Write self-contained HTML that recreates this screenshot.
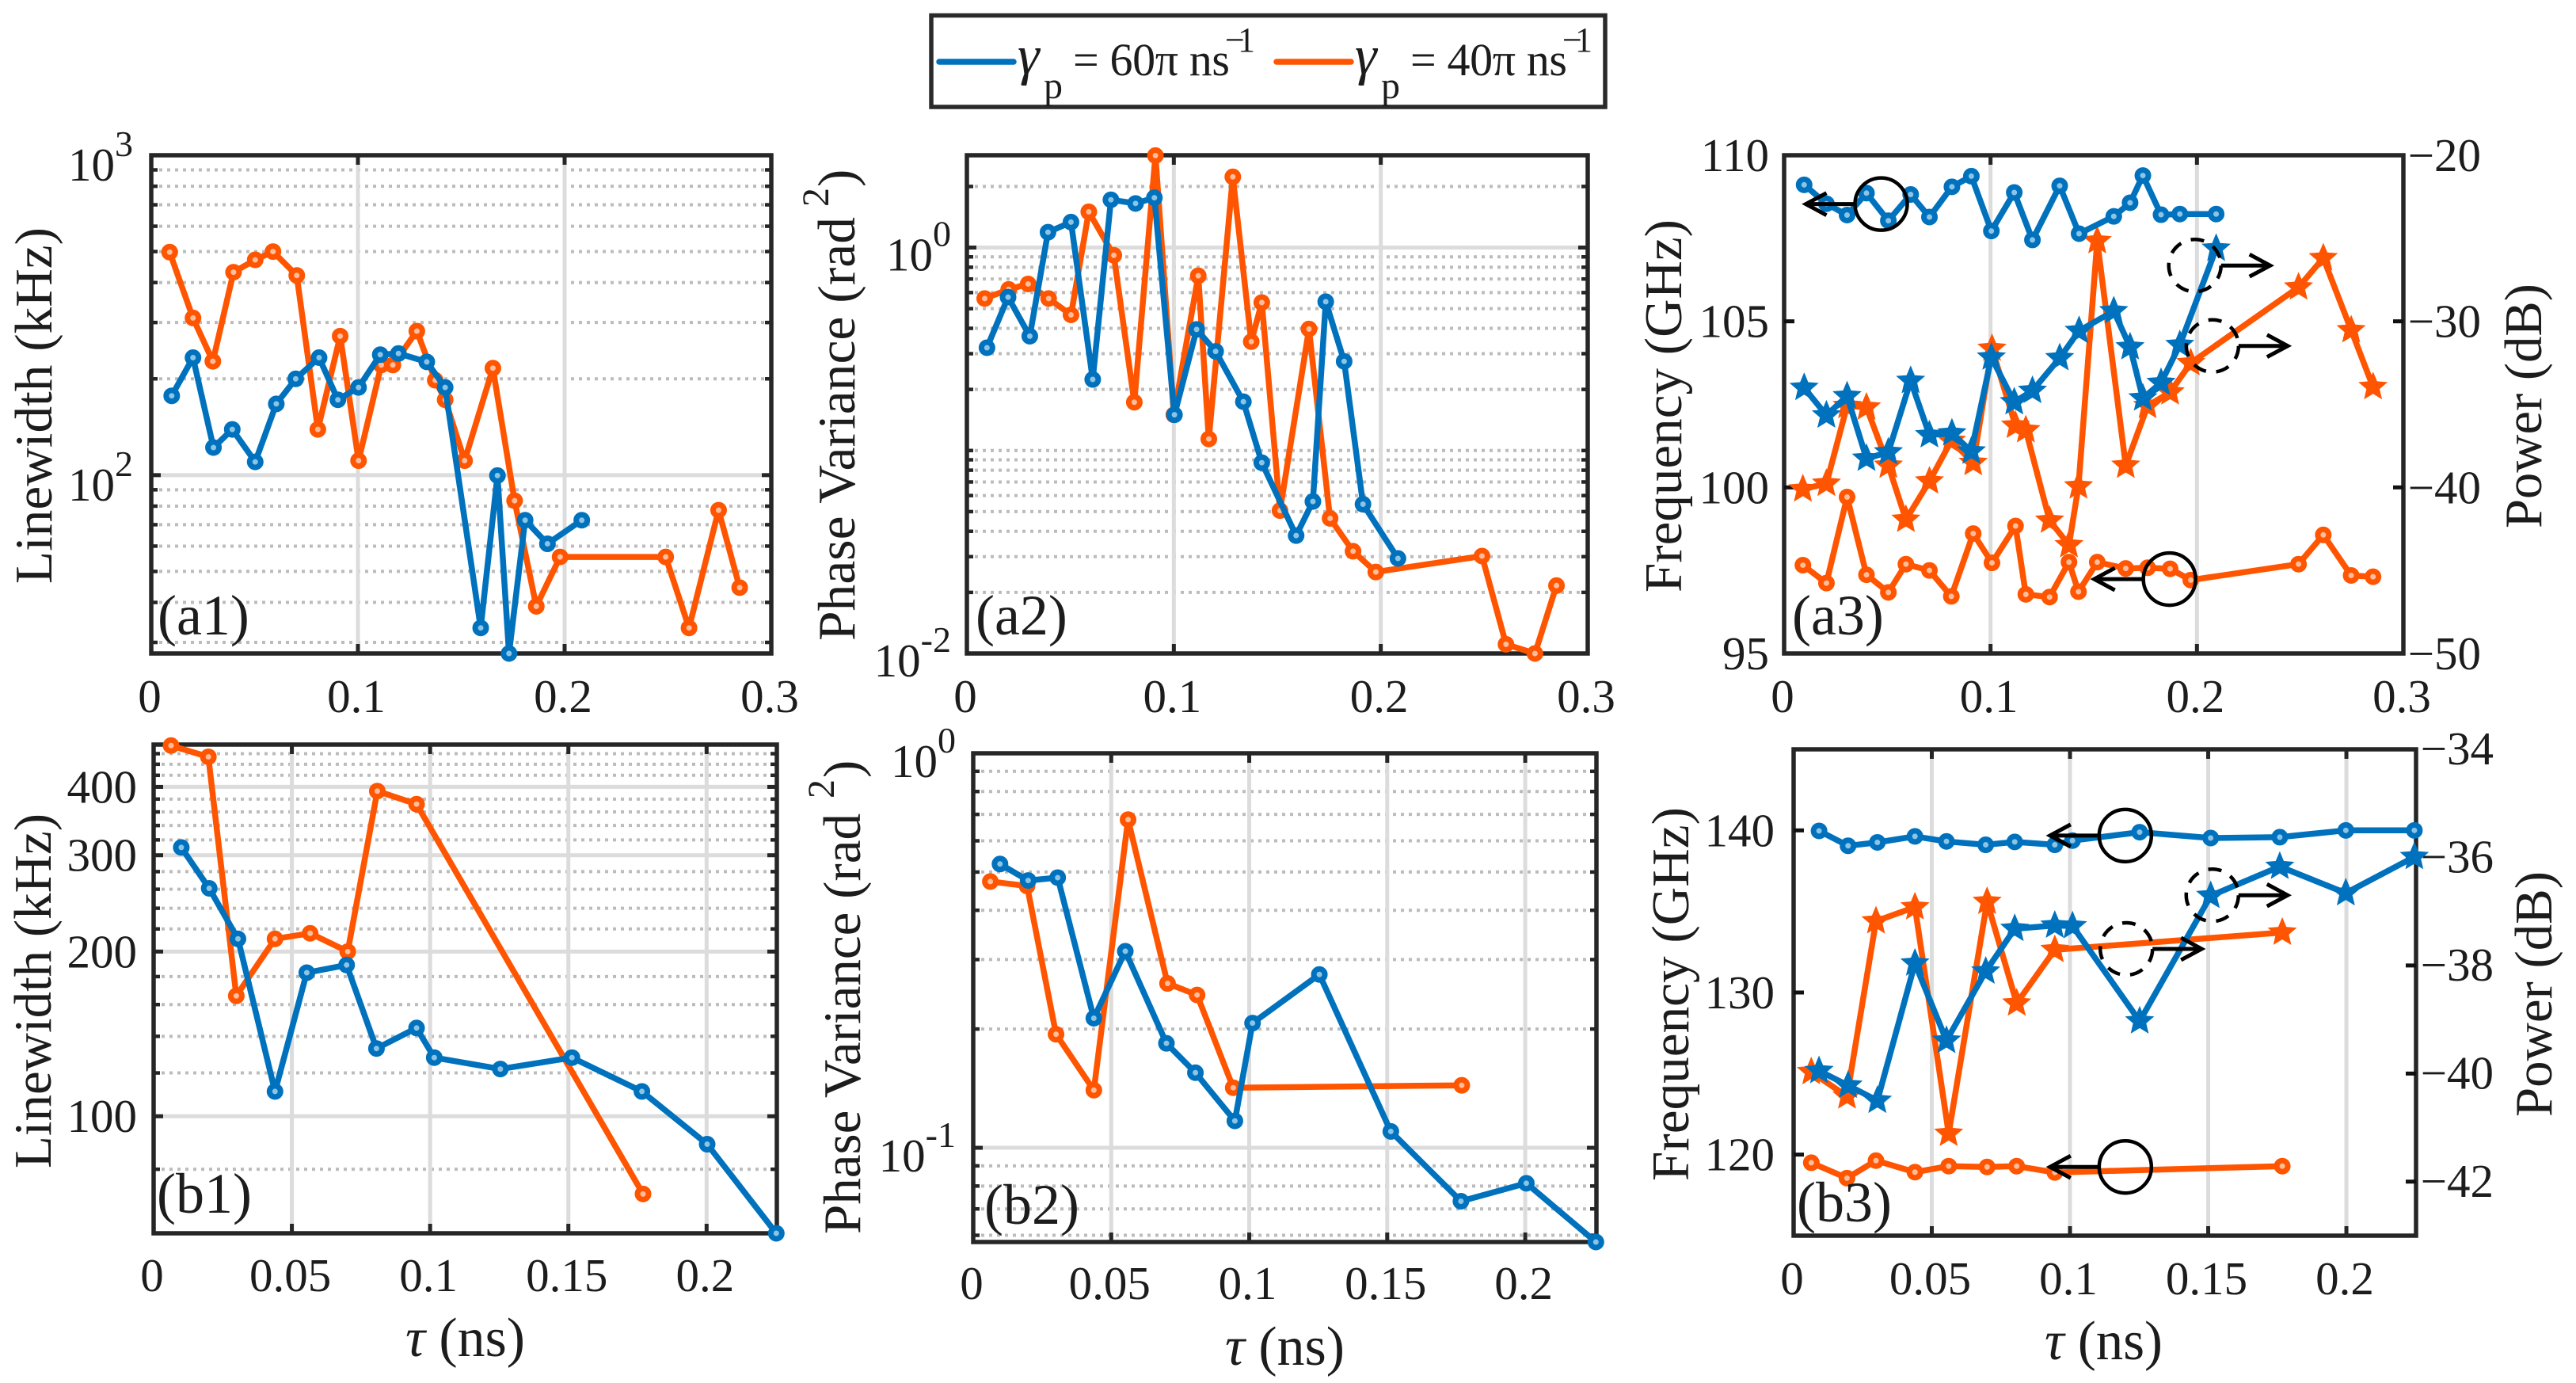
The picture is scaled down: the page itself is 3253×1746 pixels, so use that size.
<!DOCTYPE html>
<html lang="en">
<head>
<meta charset="utf-8">
<title>Linewidth, phase variance, frequency and power versus delay</title>
<style>
html,body{margin:0;padding:0;background:#fff;}
svg{display:block;font-family:"Liberation Serif",serif;fill:#1c1c1c;}
</style>
</head>
<body>
<svg id="figure" xmlns="http://www.w3.org/2000/svg" width="3253" height="1746" viewBox="0 0 3253 1746">
  <rect x="0" y="0" width="3253" height="1746" fill="#fff"/>

  <g>
    <rect x="1176" y="19.5" width="851" height="115.5" fill="#fff" stroke="#2a2a2a" stroke-width="5.5"/>
    <line x1="1186" y1="78" x2="1280" y2="78" stroke="#0072bd" stroke-width="7.5" stroke-linecap="round"/>
    <text x="1285" y="93" font-size="70" font-style="italic">γ</text>
    <text x="1318" y="124" font-size="48">p</text>
    <text x="1355" y="95" font-size="58" textLength="198" lengthAdjust="spacing">= 60π ns</text>
    <text x="1547" y="65" font-size="44" textLength="38" lengthAdjust="spacing">−1</text>
    <line x1="1612" y1="78" x2="1706" y2="78" stroke="#ff5500" stroke-width="7.5" stroke-linecap="round"/>
    <text x="1711" y="93" font-size="70" font-style="italic">γ</text>
    <text x="1744" y="124" font-size="48">p</text>
    <text x="1781" y="95" font-size="58" textLength="198" lengthAdjust="spacing">= 40π ns</text>
    <text x="1973" y="65" font-size="44" textLength="38" lengthAdjust="spacing">−1</text>
  </g>

  <g id="plot-a1"></g>
  <g id="plot-a2"></g>
  <g id="plot-a3"></g>
  <g id="plot-b1"></g>
  <g id="plot-b2"></g>
  <g id="plot-b3"></g>

  <g font-size="67">
    <text transform="translate(65,737) rotate(-90)" textLength="450" lengthAdjust="spacingAndGlyphs">Linewidth (kHz)</text>

    <text transform="translate(1079,809) rotate(-90)" textLength="535" lengthAdjust="spacingAndGlyphs">Phase Variance (rad</text>
    <text transform="translate(1046,261) rotate(-90)" font-size="48">2</text>
    <text transform="translate(1079,236) rotate(-90)">)</text>

    <text transform="translate(2123,748) rotate(-90)" textLength="471" lengthAdjust="spacingAndGlyphs">Frequency (GHz)</text>
    <text transform="translate(3209,667) rotate(-90)" textLength="309" lengthAdjust="spacingAndGlyphs">Power (dB)</text>

    <text transform="translate(64,1475) rotate(-90)" textLength="448" lengthAdjust="spacingAndGlyphs">Linewidth (kHz)</text>

    <text transform="translate(1086,1558) rotate(-90)" textLength="531" lengthAdjust="spacingAndGlyphs">Phase Variance (rad</text>
    <text transform="translate(1053,1008) rotate(-90)" font-size="48">2</text>
    <text transform="translate(1086,982) rotate(-90)">)</text>

    <text transform="translate(2132,1491) rotate(-90)" textLength="472" lengthAdjust="spacingAndGlyphs">Frequency (GHz)</text>
    <text transform="translate(3222,1410) rotate(-90)" textLength="310" lengthAdjust="spacingAndGlyphs">Power (dB)</text>

    <text x="512" y="1712" font-size="70" textLength="151" lengthAdjust="spacingAndGlyphs"><tspan font-style="italic">τ</tspan> (ns)</text>
    <text x="1547" y="1723" font-size="70" textLength="151" lengthAdjust="spacingAndGlyphs"><tspan font-style="italic">τ</tspan> (ns)</text>
    <text x="2582" y="1716" font-size="70" textLength="149" lengthAdjust="spacingAndGlyphs"><tspan font-style="italic">τ</tspan> (ns)</text>
  </g>

  <g font-size="72">
    <text x="199" y="801">(a1)</text>
    <text x="1232" y="801">(a2)</text>
    <text x="2263" y="801">(a3)</text>
    <text x="198" y="1531">(b1)</text>
    <text x="1243" y="1545">(b2)</text>
    <text x="2269" y="1542">(b3)</text>
  </g>
</svg>

<script>
// ---------- Panel (a1): linewidth ----------
const a1TauOrange = [.0089,.0202,.0298,.0398,.0503,.0589,.0704,.0806,.0914,.1003,.1113,.1169,.1285,.1374,.1422,.1516,.1653,.1758,.1863,.1978,.2489,.2602,.2745,.2847];
const a1WidthOrange = [498,310,227,431,471,500,421,139,272,111,221,221,282,198,172,111,216,83.2,38.9,55.5,55.5,33.3,77.7,44.5];
const a1TauBlue = [.0099,.0202,.0301,.0392,.0503,.0605,.0699,.0812,.0903,.1003,.1108,.1196,.1333,.1422,.1594,.1675,.1731,.1809,.1917,.2083];
const a1WidthBlue = [177,233,122,139,110,167,200,233,172,188,238,240,226,188,33.3,99.7,27.7,72.3,61,72.3];
const a1YMajorTicks = [100,1000];
const a1YMajorExponents = ['2','3'];
const a1YMinorTicks = [30,40,50,60,70,80,90,200,300,400,500,600,700,800,900];

// ---------- Panel (a2): phase variance ----------
const a2TauOrange = [.0086,.0202,.0296,.0395,.0503,.0589,.071,.0809,.0911,.1,.1118,.1169,.1285,.1374,.1425,.1513,.1653,.1755,.1866,.1976,.2489,.2605,.2745,.2849];
const a2VarOrange = [.561,.622,.662,.561,.466,1.5,.916,.173,2.84,.15,.726,.114,2.23,.344,.536,.0506,.397,.0463,.0319,.0252,.0302,.0111,.01,.0216];
const a2TauBlue = [.0097,.0199,.0304,.0392,.0503,.0608,.0696,.0815,.0906,.1003,.111,.1202,.1336,.1425,.1591,.1672,.1734,.1823,.1914,.2083];
const a2VarBlue = [.321,.57,.366,1.19,1.335,.224,1.72,1.65,1.76,.15,.395,.308,.174,.0871,.0381,.0561,.541,.275,.0544,.0294];
const a2YMajorTicks = [.01,1];
const a2YMajorExponents = ['-2','0'];
const a2YMinorTicks = [.02,.03,.04,.05,.06,.07,.08,.09,.1,.2,.3,.4,.5,.6,.7,.8,.9,2];

// ---------- Panel (a3): frequency and power ----------
const a3TauBlue = [.0097,.0205,.0305,.0399,.0505,.0613,.0704,.0813,.0907,.1004,.1115,.1203,.1335,.1429,.1597,.1676,.1738,.1826,.1917,.2093];
const a3FreqBlue = [109.11,108.54,108.2,108.86,108.03,108.82,108.14,109.05,109.37,107.72,108.88,107.45,109.08,107.64,108.16,108.57,109.39,108.21,108.23,108.23];
const a3PowerBlue = [-34,-35.66,-34.5,-38.26,-37.88,-33.58,-36.85,-36.74,-37.83,-32.17,-34.86,-34.18,-32.21,-30.57,-29.38,-31.55,-34.63,-33.7,-31.42,-25.62];
const a3TauOrange = [.0091,.0205,.0305,.0399,.0505,.059,.0704,.081,.0916,.1007,.1121,.1171,.1286,.138,.1426,.1517,.1655,.1761,.187,.197,.2492,.2612,.2747,.2853];
const a3FreqOrange = [97.66,97.12,99.71,97.37,96.84,97.69,97.5,96.72,98.61,97.73,98.84,96.78,96.7,97.75,96.86,97.75,97.56,97.58,97.55,97.21,97.69,98.57,97.35,97.31];
const a3PowerOrange = [-40.11,-39.77,-35.09,-35.18,-38.68,-41.94,-39.63,-37.19,-38.52,-31.64,-36.28,-36.55,-41.99,-43.47,-39.93,-25.16,-38.68,-35.09,-34.27,-32.51,-27.95,-26.19,-30.53,-33.95];
const a3LeftTicks = [95,100,105,110];
const a3LeftTickLabels = ['95','100','105','110'];
const a3RightTicks = [-50,-40,-30,-20];
const a3RightTickLabels = ['−50','−40','−30','−20'];

// ---------- Panel (b1): linewidth ----------
const b1TauOrange = [.0063,.0198,.0299,.0439,.0566,.0702,.0809,.0951,.177];
const b1WidthOrange = [476,454,166,211,216,200,393,372,72.1];
const b1TauBlue = [.01,.0201,.0305,.0439,.0554,.0698,.0806,.0951,.1015,.1254,.1513,.1766,.2002,.2252];
const b1WidthBlue = [310,261,211,111,183,189,133,145,128,122,128,111,88.9,61.1];
const b1YMajorTicks = [100,200,300,400];
const b1YMajorLabels = ['100','200','300','400'];
const b1YMinorTicks = [80,120,140,160,180,220,240,260,280,320,340,360,380,420,440,460];

// ---------- Panel (b2): phase variance ----------
const b2TauOrange = [.0062,.0195,.03,.0437,.0561,.0704,.0811,.0942,.177];
const b2VarOrange = [.473,.461,.194,.14,.679,.261,.244,.142,.144];
const b2TauBlue = [.0097,.0199,.0306,.0437,.0551,.07,.0805,.0948,.1012,.1254,.1513,.1767,.2004,.2256];
const b2VarBlue = [.524,.476,.484,.213,.315,.184,.155,.117,.207,.275,.11,.0732,.0813,.0577];
const b2YMajorTicks = [.1,1];
const b2YMajorExponents = ['-1','0'];
const b2YMinorTicks = [.06,.07,.08,.09,.2,.3,.4,.5,.6,.7,.8,.9];

// ---------- Panel (b3): frequency and power ----------
const b3TauBlue = [.0092,.0197,.0303,.0439,.0553,.0695,.08,.0945,.1009,.1252,.1509,.1759,.1998,.2246];
const b3FreqBlue = [139.97,139.05,139.26,139.63,139.32,139.11,139.29,139.11,139.37,139.89,139.53,139.58,140,140];
const b3PowerBlue = [-39.95,-40.22,-40.5,-37.96,-39.39,-38.11,-37.32,-37.26,-37.27,-39.03,-36.71,-36.17,-36.66,-35.99];
const b3TauOrange = [.0064,.0193,.0298,.0439,.0561,.07,.0807,.0945,.1768];
const b3FreqOrange = [119.5,118.55,119.63,118.92,119.29,119.24,119.29,118.9,119.29];
const b3PowerOrange = [-39.97,-40.42,-37.18,-36.92,-41.11,-36.82,-38.7,-37.71,-37.39];
const b3LeftTicks = [120,130,140];
const b3LeftTickLabels = ['120','130','140'];
const b3RightTicks = [-42,-40,-38,-36,-34];
const b3RightTickLabels = ['−42','−40','−38','−36','−34'];

// ---------- Shared tick values ----------
const topXTicks = [0,.1,.2,.3];
const topXTickLabels = ['0','0.1','0.2','0.3'];
const bottomXTicks = [0,.05,.1,.15,.2];
const bottomXTickLabels = ['0','0.05','0.1','0.15','0.2'];

const BLUE = '#0072bd';
const ORANGE = '#ff5500';
const INK = '#262626';
const SVGNS = 'http://www.w3.org/2000/svg';

function make(tag, parent, attrs) {
  const node = document.createElementNS(SVGNS, tag);
  for (const key in attrs) node.setAttribute(key, attrs[key]);
  parent.appendChild(node);
  return node;
}
function linScale(lo, hi, p0, p1) {
  return v => p0 + (v - lo) / (hi - lo) * (p1 - p0);
}
function logScale(lo, hi, p0, p1) {
  return v => p0 + (Math.log10(v) - Math.log10(lo)) / (Math.log10(hi) - Math.log10(lo)) * (p1 - p0);
}

function drawFrame(g, id, box, sx, xTicks, xLabels, xLabelY) {
  xTicks.forEach((t, i) => {
    const x = sx(t);
    if (t > 0 && x < box.right - 4) {
      const grid = make('line', g, {x1:x, x2:x, y1:box.top, y2:box.bottom, stroke:'#dcdcdc', 'stroke-width':5});
      
      
      const tickB = make('line', g, {x1:x, x2:x, y1:box.bottom, y2:box.bottom - 12, stroke:INK, 'stroke-width':5});
      
      
      const tickT = make('line', g, {x1:x, x2:x, y1:box.top, y2:box.top + 12, stroke:INK, 'stroke-width':5});
      
      
    }
    const label = make('text', g, {x:x - 2, y:xLabelY, 'font-size':59, 'text-anchor':'middle'});
    label.textContent = xLabels[i];
    
    
  });
}

function drawBox(g, id, box) {
  const frame = make('rect', g, {x:box.left, y:box.top, width:box.right - box.left, height:box.bottom - box.top, fill:'none', stroke:INK, 'stroke-width':5.5});
  
  
}

function drawHGrid(g, id, box, sy, majors, minors) {
  minors.forEach(v => {
    const y = sy(v);
    const grid = make('line', g, {x1:box.left + 10, x2:box.right - 8, y1:y, y2:y, stroke:'#bcbcbc', 'stroke-width':4, 'stroke-dasharray':'4 6'});
    
    
    [[box.left, box.left + 8], [box.right - 8, box.right]].forEach(pair => {
      const tick = make('line', g, {x1:pair[0], x2:pair[1], y1:y, y2:y, stroke:INK, 'stroke-width':4.5});
      
      
    });
  });
  majors.forEach(v => {
    const y = sy(v);
    const grid = make('line', g, {x1:box.left, x2:box.right, y1:y, y2:y, stroke:'#dcdcdc', 'stroke-width':5});
    
    
    [[box.left, box.left + 12], [box.right - 12, box.right]].forEach(pair => {
      const tick = make('line', g, {x1:pair[0], x2:pair[1], y1:y, y2:y, stroke:INK, 'stroke-width':5});
      
      
    });
  });
}

function drawPowerLabels(g, id, sy, majors, exponents, xEnd, dy) {
  majors.forEach((v, i) => {
    const label = make('text', g, {x:xEnd, y:sy(v) + dy, 'font-size':59, 'text-anchor':'end'});
    
    
    const base = make('tspan', label, {});
    base.textContent = '10';
    const sup = make('tspan', label, {dy:-31, 'font-size':46});
    sup.textContent = exponents[i];
  });
}

function drawPlainLabels(g, id, sy, ticks, labels, xEnd, dy) {
  ticks.forEach((v, i) => {
    const label = make('text', g, {x:xEnd, y:sy(v) + dy, 'font-size':59, 'text-anchor':'end'});
    label.textContent = labels[i];
    
    
  });
}

function drawSideTicks(g, id, box, sy, ticks, side) {
  ticks.forEach(v => {
    const y = sy(v);
    if (y <= box.top + 2 || y >= box.bottom - 2) return;
    const x0 = side === 'left' ? box.left : box.right;
    const x1 = side === 'left' ? box.left + 13 : box.right - 13;
    const tick = make('line', g, {x1:x0, x2:x1, y1:y, y2:y, stroke:'#111', 'stroke-width':5});
    
    
  });
}

function starPoints(cx, cy, outer, inner) {
  const pts = [];
  for (let k = 0; k < 10; k++) {
    const r = k % 2 === 0 ? outer : inner;
    const a = -Math.PI / 2 + k * Math.PI / 5;
    pts.push((cx + r * Math.cos(a)).toFixed(1) + ',' + (cy + r * Math.sin(a)).toFixed(1));
  }
  return pts.join(' ');
}

function drawSeries(g, name, xs, ys, sx, sy, color, marker) {
  const group = make('g', g, {});
  
  
  const pts = xs.map((x, i) => sx(x).toFixed(1) + ',' + sy(ys[i]).toFixed(1)).join(' ');
  const line = make('polyline', group, {points:pts, fill:'none', stroke:color, 'stroke-width':7.5, 'stroke-linejoin':'round'});
  
  
  const tint = color === BLUE ? '#8cc4e6' : '#ffbd9c';
  xs.forEach((x, i) => {
    const cx = sx(x), cy = sy(ys[i]);
    if (marker === 'star') {
      const star = make('polygon', group, {points:starPoints(cx, cy, 15.5, 7), fill:color, stroke:color, 'stroke-width':3, 'stroke-linejoin':'miter'});
      
      
    } else {
      const dot = make('circle', group, {cx:cx, cy:cy, r:7, fill:tint, stroke:color, 'stroke-width':7});
      
      
    }
  });
}

function annotate(g, name, cx, cy, dir, dashed) {
  const r = 33;
  const ring = make('circle', g, {cx:cx, cy:cy, r:r, fill:'none', stroke:'#000', 'stroke-width':4.5});
  if (dashed) ring.setAttribute('stroke-dasharray', '17 13');
  
  
  const tipX = cx + dir * (r + 62);
  const shaft = make('line', g, {x1:cx + dir * r, y1:cy, x2:tipX, y2:cy, stroke:'#000', 'stroke-width':5});
  
  
  const head = make('polyline', g, {points:(tipX - dir * 26) + ',' + (cy - 14) + ' ' + tipX + ',' + cy + ' ' + (tipX - dir * 26) + ',' + (cy + 14), fill:'none', stroke:'#000', 'stroke-width':5});
  
  
}

// ---------- a1 ----------
(function () {
  const g = document.getElementById('plot-a1');
  const box = {left:191, right:974, top:196, bottom:825};
  const sx = linScale(0, .3, box.left, box.right);
  const sy = logScale(27.7, 1000, box.bottom, box.top);
  drawHGrid(g, 'a1', box, sy, a1YMajorTicks, a1YMinorTicks);
  drawFrame(g, 'a1', box, sx, topXTicks, topXTickLabels, 899);
  drawBox(g, 'a1', box);
  drawPowerLabels(g, 'a1', sy, a1YMajorTicks, a1YMajorExponents, 168, 32);
  drawSeries(g, 'a1-series-orange', a1TauOrange, a1WidthOrange, sx, sy, ORANGE, 'circle');
  drawSeries(g, 'a1-series-blue', a1TauBlue, a1WidthBlue, sx, sy, BLUE, 'circle');
})();

// ---------- a2 ----------
(function () {
  const g = document.getElementById('plot-a2');
  const box = {left:1221, right:2005, top:196, bottom:825};
  const sx = linScale(0, .3, box.left, box.right);
  const sy = logScale(.01, 2.85, box.bottom, box.top);
  drawHGrid(g, 'a2', box, sy, a2YMajorTicks, a2YMinorTicks);
  drawFrame(g, 'a2', box, sx, topXTicks, topXTickLabels, 899);
  drawBox(g, 'a2', box);
  drawPowerLabels(g, 'a2', sy, a2YMajorTicks, a2YMajorExponents, 1201, 29);
  drawSeries(g, 'a2-series-orange', a2TauOrange, a2VarOrange, sx, sy, ORANGE, 'circle');
  drawSeries(g, 'a2-series-blue', a2TauBlue, a2VarBlue, sx, sy, BLUE, 'circle');
})();

// ---------- a3 ----------
(function () {
  const g = document.getElementById('plot-a3');
  const box = {left:2253, right:3035, top:196, bottom:825};
  const sx = linScale(0, .3, box.left, box.right);
  const syL = linScale(95, 110, box.bottom, box.top);
  const syR = linScale(-50, -20, box.bottom, box.top);
  drawFrame(g, 'a3', box, sx, topXTicks, topXTickLabels, 899);
  drawBox(g, 'a3', box);
  drawSideTicks(g, 'a3', box, syL, a3LeftTicks, 'left');
  drawSideTicks(g, 'a3', box, syR, a3RightTicks, 'right');
  drawPlainLabels(g, 'a3', syL, a3LeftTicks, a3LeftTickLabels, 2234, 20);
  drawPlainLabels(g, 'a3', syR, a3RightTicks, a3RightTickLabels, 3133, 20);
  drawSeries(g, 'a3-frequency-orange', a3TauOrange, a3FreqOrange, sx, syL, ORANGE, 'circle');
  drawSeries(g, 'a3-power-orange', a3TauOrange, a3PowerOrange, sx, syR, ORANGE, 'star');
  drawSeries(g, 'a3-frequency-blue', a3TauBlue, a3FreqBlue, sx, syL, BLUE, 'circle');
  drawSeries(g, 'a3-power-blue', a3TauBlue, a3PowerBlue, sx, syR, BLUE, 'star');
  annotate(g, 'a3-annotation-blue-frequency', sx(.047), syL(108.53), -1, false);
  annotate(g, 'a3-annotation-orange-frequency', sx(.1867), syL(97.24), -1, false);
  annotate(g, 'a3-annotation-blue-power', sx(.199), syL(106.68), 1, true);
  annotate(g, 'a3-annotation-orange-power', sx(.2075), syL(104.26), 1, true);
})();

// ---------- b1 ----------
(function () {
  const g = document.getElementById('plot-b1');
  const box = {left:194, right:981, top:940, bottom:1557};
  const sx = linScale(0, .2254, box.left, box.right);
  const sy = logScale(61.1, 478, box.bottom, box.top);
  drawHGrid(g, 'b1', box, sy, b1YMajorTicks, b1YMinorTicks);
  drawFrame(g, 'b1', box, sx, bottomXTicks, bottomXTickLabels, 1630);
  drawBox(g, 'b1', box);
  drawPlainLabels(g, 'b1', sy, b1YMajorTicks, b1YMajorLabels, 173, 20);
  drawSeries(g, 'b1-series-orange', b1TauOrange, b1WidthOrange, sx, sy, ORANGE, 'circle');
  drawSeries(g, 'b1-series-blue', b1TauBlue, b1WidthBlue, sx, sy, BLUE, 'circle');
})();

// ---------- b2 ----------
(function () {
  const g = document.getElementById('plot-b2');
  const box = {left:1229, right:2016, top:951, bottom:1568};
  const sx = linScale(0, .2258, box.left, box.right);
  const sy = logScale(.0577, 1, box.bottom, box.top);
  drawHGrid(g, 'b2', box, sy, b2YMajorTicks, b2YMinorTicks);
  drawFrame(g, 'b2', box, sx, bottomXTicks, bottomXTickLabels, 1640);
  drawBox(g, 'b2', box);
  drawPowerLabels(g, 'b2', sy, b2YMajorTicks, b2YMajorExponents, 1207, 30);
  drawSeries(g, 'b2-series-orange', b2TauOrange, b2VarOrange, sx, sy, ORANGE, 'circle');
  drawSeries(g, 'b2-series-blue', b2TauBlue, b2VarBlue, sx, sy, BLUE, 'circle');
})();

// ---------- b3 ----------
(function () {
  const g = document.getElementById('plot-b3');
  const box = {left:2265, right:3051, top:946, bottom:1560};
  const sx = linScale(0, .2252, box.left, box.right);
  const syL = linScale(115, 145, box.bottom, box.top);
  const syR = linScale(-43, -34, box.bottom, box.top);
  drawFrame(g, 'b3', box, sx, bottomXTicks, bottomXTickLabels, 1634);
  drawBox(g, 'b3', box);
  drawSideTicks(g, 'b3', box, syL, b3LeftTicks, 'left');
  drawSideTicks(g, 'b3', box, syR, b3RightTicks, 'right');
  drawPlainLabels(g, 'b3', syL, b3LeftTicks, b3LeftTickLabels, 2241, 20);
  drawPlainLabels(g, 'b3', syR, b3RightTicks, b3RightTickLabels, 3149, 19);
  drawSeries(g, 'b3-frequency-orange', b3TauOrange, b3FreqOrange, sx, syL, ORANGE, 'circle');
  drawSeries(g, 'b3-power-orange', b3TauOrange, b3PowerOrange, sx, syR, ORANGE, 'star');
  drawSeries(g, 'b3-frequency-blue', b3TauBlue, b3FreqBlue, sx, syL, BLUE, 'circle');
  drawSeries(g, 'b3-power-blue', b3TauBlue, b3PowerBlue, sx, syR, BLUE, 'star');
  annotate(g, 'b3-annotation-blue-frequency', sx(.12), syL(139.68), -1, false);
  annotate(g, 'b3-annotation-orange-frequency', sx(.12), syL(119.24), -1, false);
  annotate(g, 'b3-annotation-orange-power', sx(.1204), syL(132.69), 1, true);
  annotate(g, 'b3-annotation-blue-power', sx(.1515), syL(136), 1, true);
})();
</script>
</body>
</html>
